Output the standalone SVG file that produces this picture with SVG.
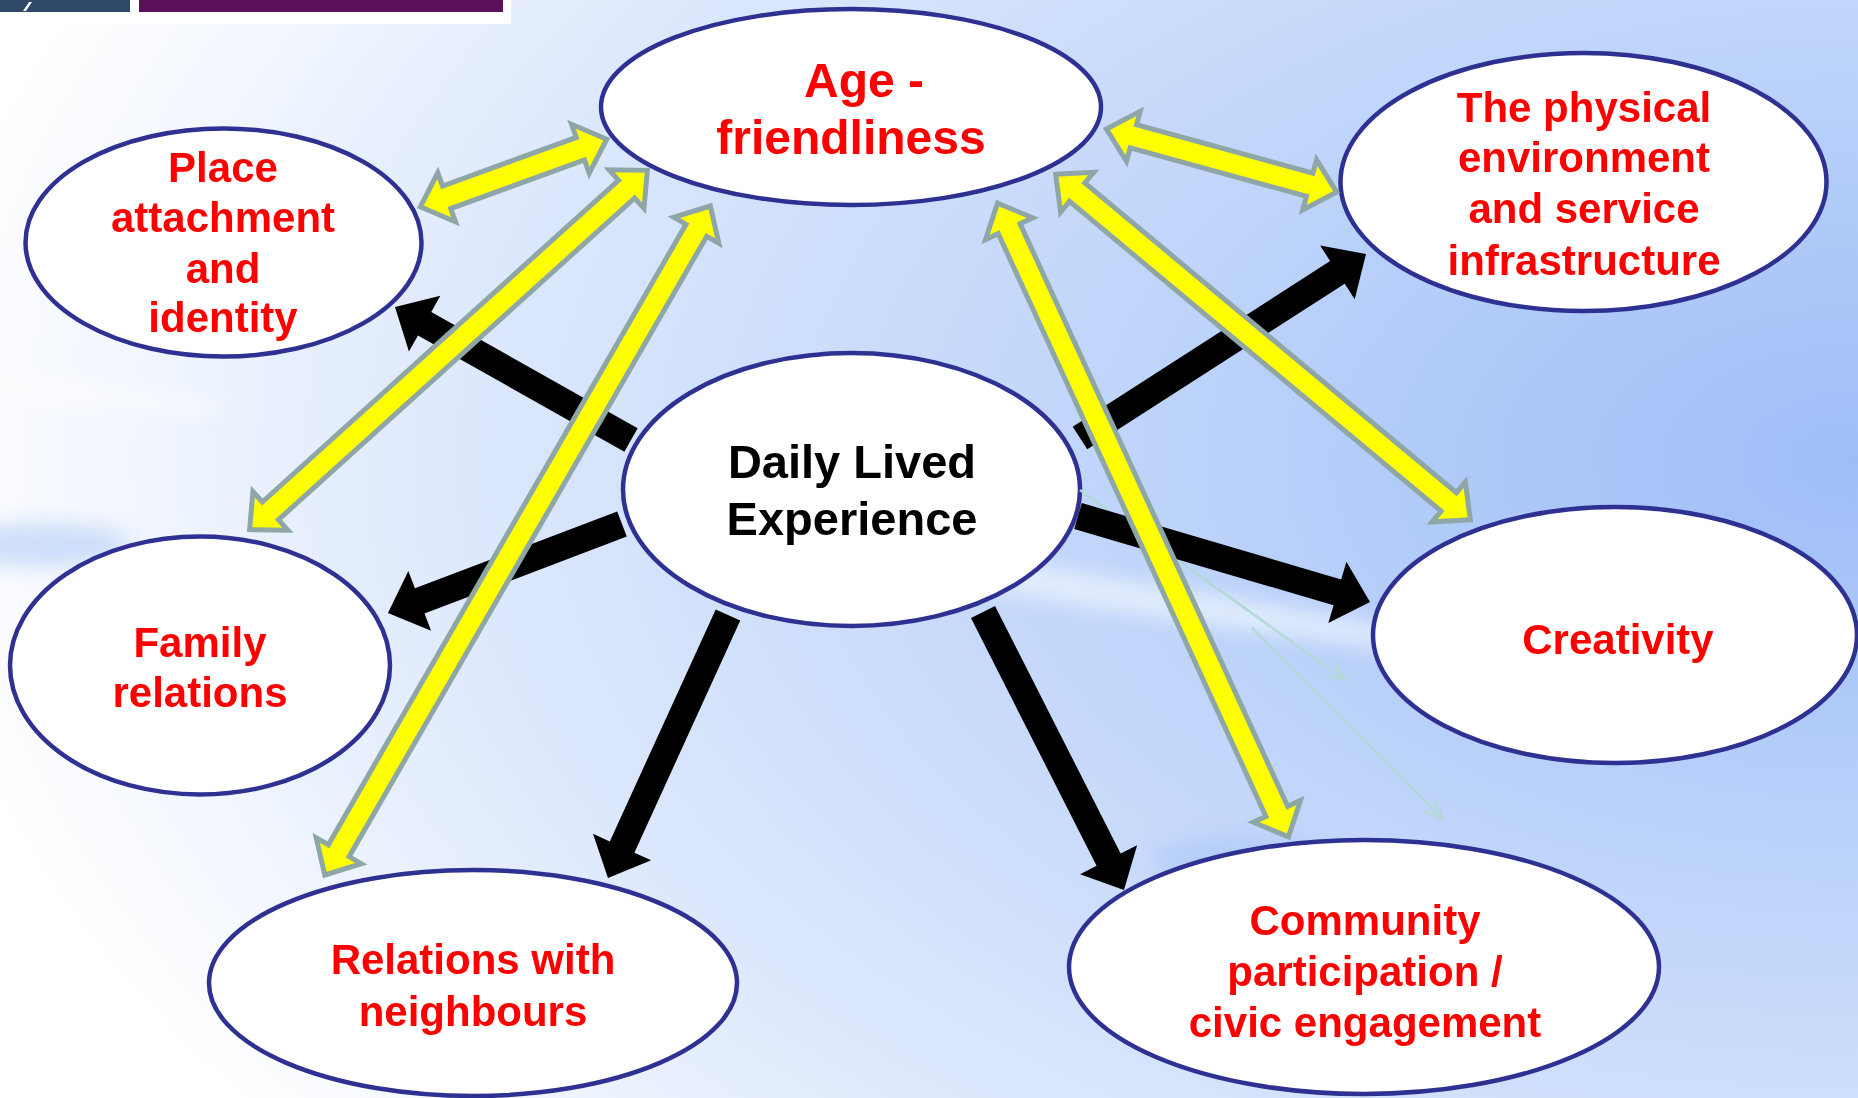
<svg xmlns="http://www.w3.org/2000/svg" width="1858" height="1098" viewBox="0 0 1858 1098">
  <defs>
    <radialGradient id="bgGrad" cx="1" cy="0.42" r="1.05">
      <stop offset="0" stop-color="#9ebdf7"/>
      <stop offset="0.35" stop-color="#bcd3fa"/>
      <stop offset="0.7" stop-color="#dbe7fc"/>
      <stop offset="1" stop-color="#ffffff"/>
    </radialGradient>
    <filter id="haze" x="-50%" y="-200%" width="200%" height="500%">
      <feGaussianBlur stdDeviation="10"/>
    </filter>
    <marker id="openV" viewBox="0 0 24 20" refX="21" refY="10" markerWidth="24" markerHeight="20" orient="auto" markerUnits="userSpaceOnUse">
      <path d="M3,2 L21,10 L3,18" fill="none" stroke="#b3d9d6" stroke-width="2.5"/>
    </marker>
  </defs>
  <style>
    .node ellipse { fill: #ffffff; stroke: #2e3192; stroke-width: 4.5; }
    .lbl { font-family: "Liberation Sans", Arial, sans-serif; font-weight: bold; font-size: 42px; text-anchor: middle; fill: #ff0000; }
    .big { font-size: 48px; }
    .core { font-size: 47px; fill: #000000; }
    .blk { fill: #000000; }
    .yel { fill: #ffff00; stroke: #8ea6a6; stroke-width: 5; stroke-linejoin: miter; }
    .thin { fill: none; stroke: #b3d9d6; stroke-width: 2.5; marker-end: url(#openV); }
  </style>

  <!-- background wash -->
  <rect x="0" y="0" width="1858" height="1098" fill="url(#bgGrad)"/>
  <g filter="url(#haze)">
    <ellipse cx="1150" cy="600" rx="380" ry="16" transform="rotate(9 1150 600)" fill="#ffffff" opacity="0.55"/>
    <ellipse cx="90" cy="395" rx="140" ry="14" transform="rotate(6 90 395)" fill="#ffffff" opacity="0.5"/>
    <ellipse cx="40" cy="545" rx="90" ry="22" fill="#b3cbf6" opacity="0.6"/>
    <ellipse cx="1240" cy="860" rx="90" ry="25" fill="#a6c3f7" opacity="0.5"/>
  </g>

  <!-- header strip -->
  <g id="header">
    <rect x="0" y="0" width="511" height="24" fill="#ffffff"/>
    <rect x="0" y="0" width="130" height="12" fill="#2e4868"/>
    <polygon points="23,11 29,2 32,2 26,11" fill="#ffffff"/>
    <rect x="139" y="0" width="364" height="12" fill="#5b1059"/>
  </g>

  <!-- nodes -->
  <g id="age-friendliness" class="node">
    <ellipse cx="851" cy="107" rx="250" ry="98"/>
    <text class="lbl big" x="864" y="97">Age -</text>
    <text class="lbl big" x="851" y="154">friendliness</text>
  </g>
  <g id="place-attachment" class="node">
    <ellipse cx="223.5" cy="242.5" rx="198" ry="114"/>
    <text class="lbl" x="223" y="182">Place</text>
    <text class="lbl" x="223" y="232">attachment</text>
    <text class="lbl" x="223" y="283">and</text>
    <text class="lbl" x="223" y="332">identity</text>
  </g>
  <g id="physical-environment" class="node">
    <ellipse cx="1583.5" cy="182" rx="243" ry="129"/>
    <text class="lbl" x="1584" y="122">The physical</text>
    <text class="lbl" x="1584" y="172">environment</text>
    <text class="lbl" x="1584" y="223">and service</text>
    <text class="lbl" x="1584" y="275">infrastructure</text>
  </g>
  <g id="daily-lived-experience" class="node">
    <ellipse cx="851.5" cy="489.5" rx="228.5" ry="136.5"/>
    <text class="lbl core" x="852" y="478">Daily Lived</text>
    <text class="lbl core" x="852" y="535">Experience</text>
  </g>
  <g id="family-relations" class="node">
    <ellipse cx="200" cy="665.5" rx="190" ry="129"/>
    <text class="lbl" x="200" y="657">Family</text>
    <text class="lbl" x="200" y="707">relations</text>
  </g>
  <g id="creativity" class="node">
    <ellipse cx="1615" cy="635" rx="242" ry="128"/>
    <text class="lbl" x="1618" y="654">Creativity</text>
  </g>
  <g id="relations-neighbours" class="node">
    <ellipse cx="473" cy="983" rx="264" ry="113"/>
    <text class="lbl" x="473" y="974">Relations with</text>
    <text class="lbl" x="473" y="1026">neighbours</text>
  </g>
  <g id="community-participation" class="node">
    <ellipse cx="1364" cy="967" rx="295" ry="127"/>
    <text class="lbl" x="1365" y="935">Community</text>
    <text class="lbl" x="1365" y="986">participation /</text>
    <text class="lbl" x="1365" y="1037">civic engagement</text>
  </g>

  <!-- connectors -->
  <g id="connectors">
    <!-- faint guide arrows -->
    <line class="thin" x1="1080" y1="490" x2="1345" y2="680"/>
    <line class="thin" x1="1252" y1="628" x2="1442" y2="818"/>

    <!-- black arrows out of Daily Lived Experience -->
    <path class="blk" transform="translate(631 440) rotate(-150.59)" d="M0,-13.5 H236.9 V-32 L270.9,0 L236.9,32 V13.5 H0 Z"/>
    <path class="blk" transform="translate(1080 438) rotate(-32.76)" d="M0,-13.5 H306.1 V-32 L340.1,0 L306.1,32 V13.5 H0 Z"/>
    <path class="blk" transform="translate(622 524) rotate(159.18)" d="M0,-13.5 H216.4 V-32 L250.4,0 L216.4,32 V13.5 H0 Z"/>
    <path class="blk" transform="translate(728 615) rotate(114.53)" d="M0,-13.5 H255.1 V-32 L289.1,0 L255.1,32 V13.5 H0 Z"/>
    <path class="blk" transform="translate(983 612) rotate(63.11)" d="M0,-13.5 H277.7 V-32 L311.7,0 L277.7,32 V13.5 H0 Z"/>
    <path class="blk" transform="translate(1078 516) rotate(16.41)" d="M0,-13.5 H270.4 V-32 L304.4,0 L270.4,32 V13.5 H0 Z"/>

    <!-- two-way yellow arrows around Age-friendliness -->
    <path class="yel" transform="translate(417 208) rotate(-19.94)" d="M3.5,0 L31.5,-26 V-12 H173.8 V-26 L201.8,0 L173.8,26 V12 H31.5 V26 Z"/>
    <path class="yel" transform="translate(247 532) rotate(-42.09)" d="M3.5,0 L31.5,-26 V-12 H511.5 V-26 L539.5,0 L511.5,26 V12 H31.5 V26 Z"/>
    <path class="yel" transform="translate(323 878) rotate(-60.04)" d="M3.5,0 L31.5,-26 V-12 H747.6 V-26 L775.6,0 L747.6,26 V12 H31.5 V26 Z"/>
    <path class="yel" transform="translate(1103 128) rotate(15.34)" d="M3.5,0 L31.5,-26 V-12 H214.3 V-26 L242.3,0 L214.3,26 V12 H31.5 V26 Z"/>
    <path class="yel" transform="translate(1053 172) rotate(39.81)" d="M3.5,0 L31.5,-26 V-12 H515.2 V-26 L543.2,0 L515.2,26 V12 H31.5 V26 Z"/>
    <path class="yel" transform="translate(996 200) rotate(65.33)" d="M3.5,0 L31.5,-26 V-12 H672.8 V-26 L700.8,0 L672.8,26 V12 H31.5 V26 Z"/>
  </g>
</svg>
